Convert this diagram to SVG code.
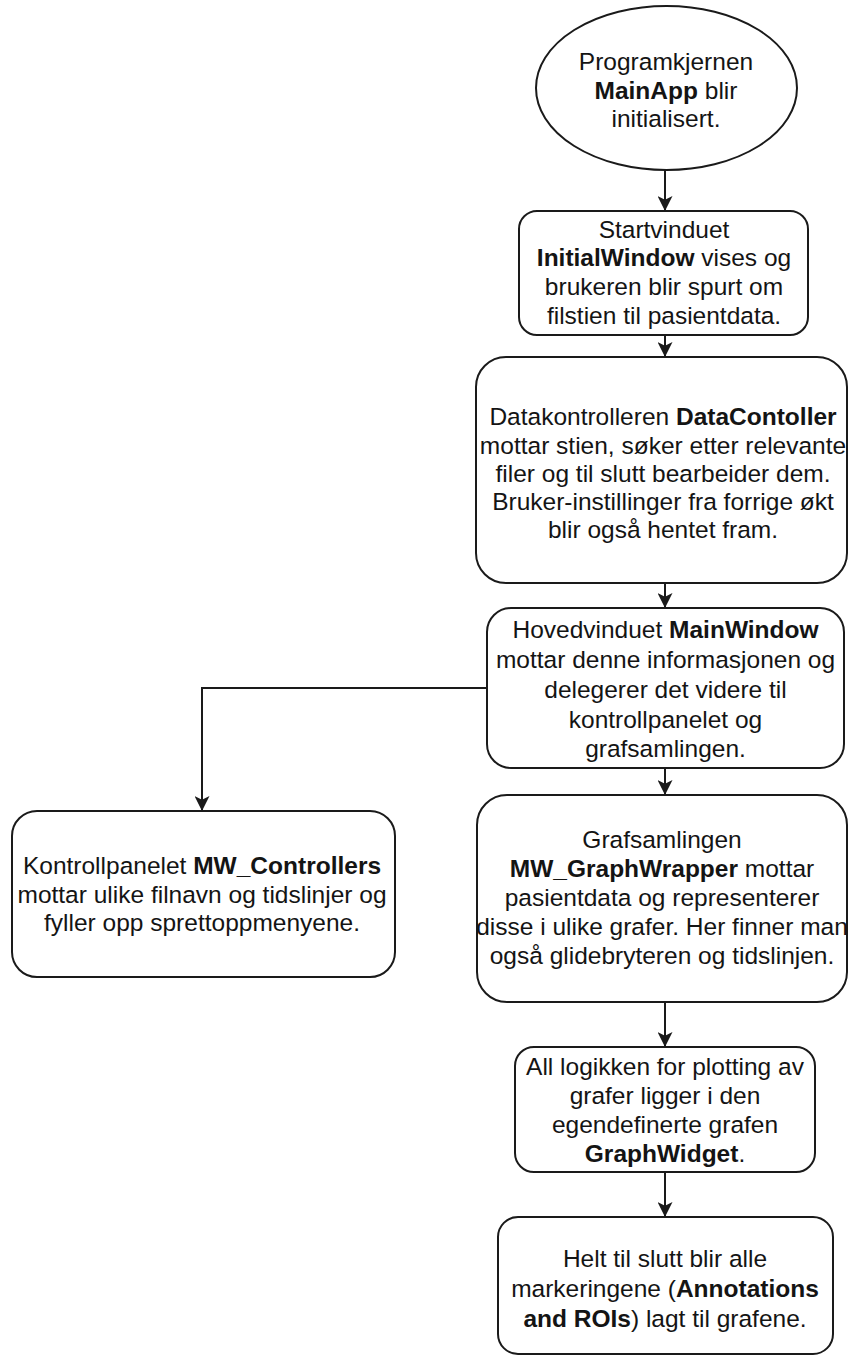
<svg xmlns="http://www.w3.org/2000/svg" width="848" height="1356" viewBox="0 0 848 1356">
<style>
.shape{fill:#ffffff;stroke:#1a1a1a;stroke-width:2}
.edge{fill:none;stroke:#1a1a1a;stroke-width:2}
text{font-family:"Liberation Sans",Arial,sans-serif;font-size:24.5px;fill:#141414;text-anchor:middle}
.b{font-weight:bold}
</style>
<defs>
<marker id="arr" markerUnits="userSpaceOnUse" markerWidth="15" markerHeight="15" viewBox="0 0 15 15" refX="15" refY="7.5" orient="auto">
<path d="M0,0 L15,7.5 L0,15 L3.75,7.5 Z" fill="#1a1a1a"/>
</marker>
</defs>
<rect x="0" y="0" width="848" height="1356" fill="#ffffff"/>
<g id="connectors">
<path class="edge" d="M665,170 L665,211" marker-end="url(#arr)"/>
<path class="edge" d="M665,335 L665,357" marker-end="url(#arr)"/>
<path class="edge" d="M665,583 L665,608" marker-end="url(#arr)"/>
<path class="edge" d="M487,688 L202,688 L202,811" marker-end="url(#arr)"/>
<path class="edge" d="M665,768 L665,795" marker-end="url(#arr)"/>
<path class="edge" d="M665,1002 L665,1047" marker-end="url(#arr)"/>
<path class="edge" d="M665,1172 L665,1217" marker-end="url(#arr)"/>
</g>
<g id="mainapp">
<ellipse class="shape" cx="666.5" cy="88" rx="130.5" ry="82"/>
<text x="666" y="70">Programkjernen</text>
<text x="666" y="98.5"><tspan class="b">MainApp</tspan> blir</text>
<text x="666" y="127">initialisert.</text>
</g>
<g id="initialwindow">
<rect class="shape" x="519" y="211" width="289" height="124" rx="18"/>
<text x="664" y="237.5">Startvinduet</text>
<text x="664" y="266.3"><tspan class="b">InitialWindow</tspan> vises og</text>
<text x="664" y="295.1">brukeren blir spurt om</text>
<text x="664" y="323.9">filstien til pasientdata.</text>
</g>
<g id="datacontroller">
<rect class="shape" x="476" y="357" width="371" height="226" rx="30"/>
<text x="663" y="425"><tspan>Datakontrolleren </tspan><tspan class="b">DataContoller</tspan></text>
<text x="663" y="453.5">mottar stien, søker etter relevante</text>
<text x="663" y="482">filer og til slutt bearbeider dem.</text>
<text x="663" y="510">Bruker-instillinger fra forrige økt</text>
<text x="663" y="538">blir også hentet fram.</text>
</g>
<g id="mainwindow">
<rect class="shape" x="487" y="608" width="357" height="160" rx="24"/>
<text x="665.5" y="638">Hovedvinduet <tspan class="b">MainWindow</tspan></text>
<text x="665.5" y="668">mottar denne informasjonen og</text>
<text x="665.5" y="698">delegerer det videre til</text>
<text x="665.5" y="727.5">kontrollpanelet og</text>
<text x="665.5" y="757">grafsamlingen.</text>
</g>
<g id="controllers">
<rect class="shape" x="12" y="811" width="383" height="166" rx="25"/>
<text x="202" y="874">Kontrollpanelet <tspan class="b">MW_Controllers</tspan></text>
<text x="202" y="902.5">mottar ulike filnavn og tidslinjer og</text>
<text x="202" y="931">fyller opp sprettoppmenyene.</text>
</g>
<g id="graphwrapper">
<rect class="shape" x="477" y="795" width="370" height="207" rx="30"/>
<text x="662" y="848">Grafsamlingen</text>
<text x="662" y="877"><tspan class="b">MW_GraphWrapper</tspan> mottar</text>
<text x="662" y="906">pasientdata og representerer</text>
<text x="662" y="935">disse i ulike grafer. Her finner man</text>
<text x="662" y="963.5">også glidebryteren og tidslinjen.</text>
</g>
<g id="graphwidget">
<rect class="shape" x="515" y="1047" width="300" height="125" rx="19"/>
<text x="665" y="1075">All logikken for plotting av</text>
<text x="665" y="1104">grafer ligger i den</text>
<text x="665" y="1133">egendefinerte grafen</text>
<text x="665" y="1162"><tspan class="b">GraphWidget</tspan>.</text>
</g>
<g id="annotations">
<rect class="shape" x="498" y="1217" width="335" height="137" rx="20"/>
<text x="665" y="1267">Helt til slutt blir alle</text>
<text x="665" y="1297">markeringene (<tspan class="b">Annotations</tspan></text>
<text x="665" y="1327"><tspan class="b">and ROIs</tspan>) lagt til grafene.</text>
</g>
</svg>
